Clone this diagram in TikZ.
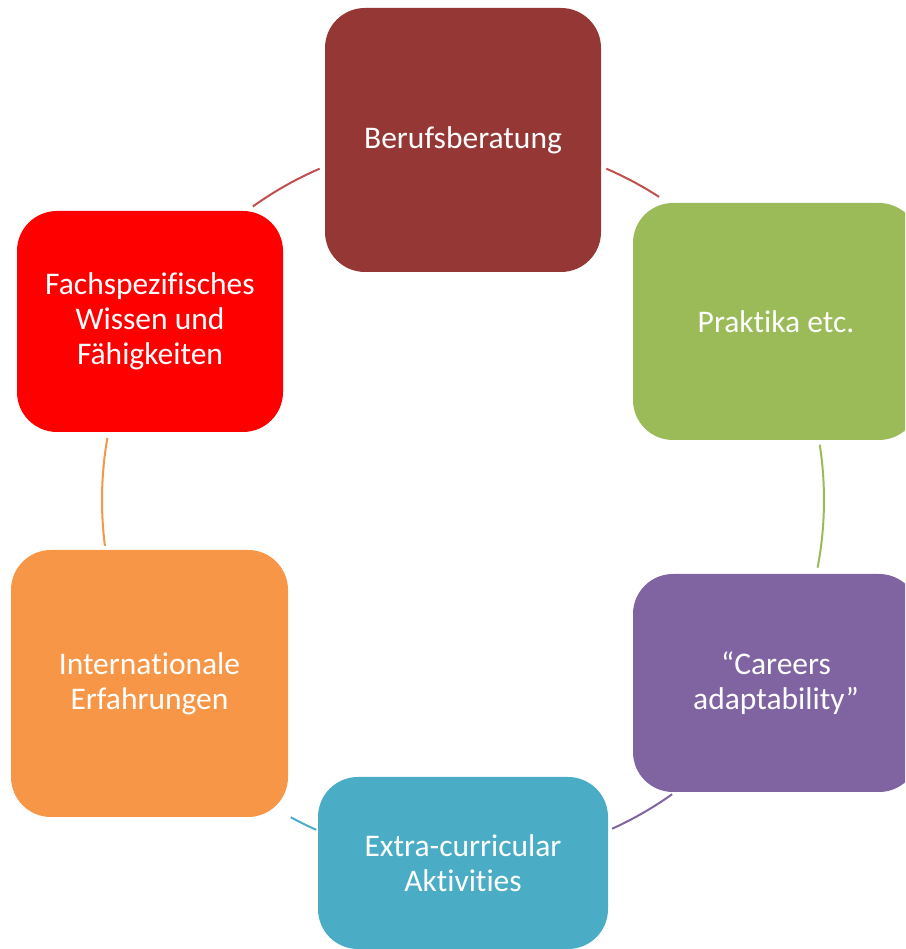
\documentclass[tikz,border=0pt]{standalone}
\usepackage{fontspec}
\setmainfont{Carlito}[Ligatures=NoCommon]
\usepackage{xcolor}
\usepackage{tikz}

\definecolor{beruf}{HTML}{953735}
\definecolor{berufline}{HTML}{C0504D}
\definecolor{praktika}{HTML}{9BBB59}
\definecolor{careers}{HTML}{8064A2}
\definecolor{extra}{HTML}{4BACC6}
\definecolor{intern}{HTML}{F79646}
\definecolor{fach}{HTML}{FF0000}

\begin{document}
\begin{tikzpicture}[x=1pt, y=1pt,
        box/.style={shape=rectangle, rounded corners=40pt, inner sep=0pt, align=center,
            text=white, font=\fontsize{31.5}{35}\selectfont},
        ring/.style={line width=2pt}]
            \useasboundingbox (0,0) rectangle (905,949);
            \clip (0,0) rectangle (905,949);

            \coordinate (O) at (463,449);

            \node[box, fill=beruf, minimum width=276pt, minimum height=264pt] (A) at (463,809) {Berufsberatung};
            \node[box, fill=praktika, minimum width=286pt, minimum height=237pt] (B) at (776,627.5) {Praktika etc.};
            \node[box, fill=careers, minimum width=286pt, minimum height=218pt] (C) at (776,266) {“Careers\\adaptability”};
            \node[box, fill=extra, minimum width=290pt, minimum height=172pt] (D) at (463,86) {Extra-curricular\\Aktivities};
            \node[box, fill=intern, minimum width=277pt, minimum height=267pt] (E) at (149.5,265.5) {Internationale\\Erfahrungen};
            \node[box, fill=fach, minimum width=266pt, minimum height=221pt] (F) at (150,627.5) {Fachspezifisches\\Wissen und\\Fähigkeiten};

            % arcs of the ring between the boxes
            \draw[ring, berufline] ([shift={(66.6:361)}]O) arc[start angle=66.6, end angle=57.1, radius=361pt];
            \draw[ring, praktika] ([shift={(8.8:361)}]O) arc[start angle=8.8, end angle=-10.8, radius=361pt];
            \draw[ring, careers] ([shift={(-54.6:361)}]O) arc[start angle=-54.6, end angle=-65.6, radius=361pt];
            \draw[ring, extra] ([shift={(-114:361)}]O) arc[start angle=-114, end angle=-118.5, radius=361pt];
            \draw[ring, intern] ([shift={(187.3:361)}]O) arc[start angle=187.3, end angle=170.1, radius=361pt];
            \draw[ring, berufline] ([shift={(125.6:361)}]O) arc[start angle=125.6, end angle=113.4, radius=361pt];
        \end{tikzpicture}
\end{document}
